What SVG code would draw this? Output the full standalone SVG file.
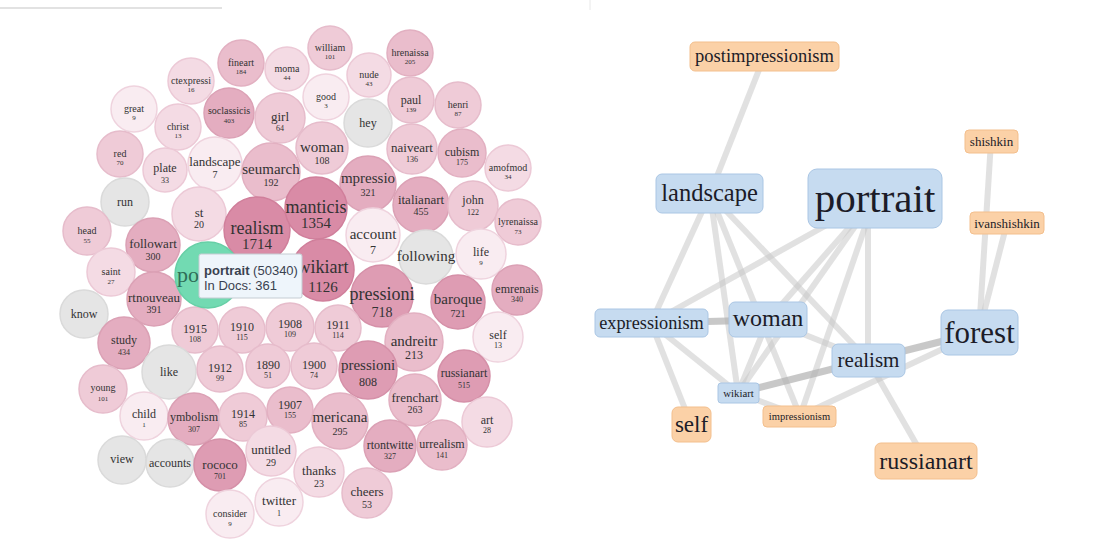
<svg xmlns="http://www.w3.org/2000/svg" width="1109" height="545" viewBox="0 0 1109 545">
<style>
.c1{fill:#d98ba6;stroke:#d07f9b}
.c2{fill:#de9cb3;stroke:#d590a8}
.c3{fill:#e4adc0;stroke:#dba1b5}
.c4{fill:#eabdcc;stroke:#e2b0c1}
.c5{fill:#efcbd7;stroke:#e6bccb}
.c6{fill:#f4dbe4;stroke:#ecc9d6}
.c7{fill:#f9ecf1;stroke:#efd3de}
.g{fill:#e5e5e5;stroke:#dadada}
circle{stroke-width:1.5}
text{font-family:"Liberation Serif","Times New Roman",serif;fill:#333;text-anchor:middle}
.s1{font-size:10px}.s1n{font-size:7px}
.s2{font-size:12px}.s2n{font-size:8px}
.s3{font-size:13px}.s3n{font-size:10px}
.s4{font-size:15px}.s4n{font-size:12px}
.s5{font-size:18px}.s5n{font-size:15px}
.e{stroke:#c8c8c8;stroke-opacity:0.55;stroke-width:6;fill:none;stroke-linecap:butt}
.ed{stroke:#b0b0b0;stroke-opacity:0.7;stroke-width:7}
.bn{fill:#c6dbf0;stroke:#aac6e4;stroke-width:1}
.on{fill:#fbd1a7;stroke:#f3bf8d;stroke-width:1}
.nt{fill:#1c1c28}
.tt{font-family:"Liberation Sans",Arial,sans-serif;font-size:13px;text-anchor:start;fill:#3a4250}
</style>
<rect width="1109" height="545" fill="#ffffff"/>
<line x1="0" y1="8" x2="222" y2="8" stroke="#e2e2e2" stroke-width="2"/>
<line x1="590" y1="0" x2="590" y2="10" stroke="#e8e8e8" stroke-width="1"/>

<g id="bubbles">
<g id="b-fineart"><circle class="c4" cx="241" cy="63" r="23"/><text class="s1" x="241" y="66">fineart</text><text class="s1n" x="241" y="74">184</text></g>
<g id="b-moma"><circle class="c6" cx="287" cy="69" r="22"/><text class="s1" x="287" y="72">moma</text><text class="s1n" x="287" y="80">44</text></g>
<g id="b-william"><circle class="c5" cx="330" cy="48" r="22"/><text class="s1" x="330" y="51">william</text><text class="s1n" x="330" y="59">101</text></g>
<g id="b-hrenaissa"><circle class="c4" cx="410" cy="53" r="23"/><text class="s1" x="410" y="56">hrenaissa</text><text class="s1n" x="410" y="64">205</text></g>
<g id="b-nude"><circle class="c6" cx="369" cy="75" r="22"/><text class="s1" x="369" y="78">nude</text><text class="s1n" x="369" y="86">43</text></g>
<g id="b-good"><circle class="c7" cx="326" cy="97" r="23"/><text class="s1" x="326" y="100">good</text><text class="s1n" x="326" y="108">3</text></g>
<g id="b-hey"><circle class="g" cx="368" cy="123" r="24"/><text class="s2" x="368" y="127">hey</text></g>
<g id="b-paul"><circle class="c5" cx="411" cy="100" r="23"/><text class="s2" x="411" y="104">paul</text><text class="s1n" x="411" y="112">139</text></g>
<g id="b-henri"><circle class="c5" cx="458" cy="105" r="23"/><text class="s1" x="458" y="108">henri</text><text class="s1n" x="458" y="116">87</text></g>
<g id="b-ctexpressi"><circle class="c6" cx="191" cy="81" r="23"/><text class="s1" x="191" y="84">ctexpressi</text><text class="s1n" x="191" y="92">16</text></g>
<g id="b-great"><circle class="c7" cx="134" cy="109" r="23"/><text class="s1" x="134" y="112">great</text><text class="s1n" x="134" y="120">9</text></g>
<g id="b-christ"><circle class="c6" cx="178" cy="127" r="23"/><text class="s1" x="178" y="130">christ</text><text class="s1n" x="178" y="138">13</text></g>
<g id="b-soclassicis"><circle class="c3" cx="229" cy="113" r="25"/><text class="s1" x="229" y="114">soclassicis</text><text class="s1n" x="229" y="123">403</text></g>
<g id="b-girl"><circle class="c5" cx="280" cy="118" r="25"/><text class="s3" x="280" y="121">girl</text><text class="s2n" x="280" y="131">64</text></g>
<g id="b-woman"><circle class="c5" cx="322" cy="148" r="26"/><text class="s4" x="322" y="152">woman</text><text class="s3n" x="322" y="164">108</text></g>
<g id="b-naiveart"><circle class="c5" cx="412" cy="149" r="25"/><text class="s3" x="412" y="152">naiveart</text><text class="s2n" x="412" y="162">136</text></g>
<g id="b-cubism"><circle class="c4" cx="462" cy="153" r="24"/><text class="s2" x="462" y="156">cubism</text><text class="s2n" x="462" y="165">175</text></g>
<g id="b-amofmod"><circle class="c6" cx="508" cy="168" r="23"/><text class="s1" x="508" y="171">amofmod</text><text class="s1n" x="508" y="179">34</text></g>
<g id="b-red"><circle class="c5" cx="120" cy="154" r="23"/><text class="s1" x="120" y="157">red</text><text class="s1n" x="120" y="165">70</text></g>
<g id="b-plate"><circle class="c6" cx="165" cy="170" r="22"/><text class="s2" x="165" y="172">plate</text><text class="s2n" x="165" y="183">33</text></g>
<g id="b-landscape"><circle class="c7" cx="215" cy="164" r="27"/><text class="s3" x="215" y="166">landscape</text><text class="s3n" x="215" y="178">7</text></g>
<g id="b-seumarch"><circle class="c4" cx="271" cy="172" r="29"/><text class="s4" x="271" y="174">seumarch</text><text class="s3n" x="271" y="186">192</text></g>
<g id="b-impressio"><circle class="c3" cx="368" cy="184" r="28"/><text class="s4" x="368" y="183">mpressio</text><text class="s3n" x="368" y="196">321</text></g>
<g id="b-italianart"><circle class="c3" cx="421" cy="205" r="28"/><text class="s3" x="421" y="204">italianart</text><text class="s3n" x="421" y="215">455</text></g>
<g id="b-john"><circle class="c5" cx="473" cy="206" r="25"/><text class="s2" x="473" y="204">john</text><text class="s2n" x="473" y="215">122</text></g>
<g id="b-lyrenaissa"><circle class="c5" cx="518" cy="222" r="23"/><text class="s1" x="518" y="225">lyrenaissa</text><text class="s1n" x="518" y="234">73</text></g>
<g id="b-run"><circle class="g" cx="125" cy="202" r="24"/><text class="s2" x="125" y="206">run</text></g>
<g id="b-st"><circle class="c6" cx="199" cy="214" r="27"/><text class="s3" x="199" y="217">st</text><text class="s3n" x="199" y="228">20</text></g>
<g id="b-realism"><circle class="c1" cx="257" cy="230" r="33"/><text class="s5" x="257" y="234">realism</text><text class="s5n" x="257" y="249">1714</text></g>
<g id="b-manticis"><circle class="c1" cx="316" cy="208" r="31"/><text class="s5" x="316" y="213">manticis</text><text class="s5n" x="316" y="228">1354</text></g>
<g id="b-account"><circle class="c7" cx="373" cy="235" r="27"/><text class="s4" x="373" y="239">account</text><text class="s4n" x="373" y="254">7</text></g>
<g id="b-following"><circle class="g" cx="426" cy="257" r="27"/><text class="s4" x="426" y="261">following</text></g>
<g id="b-life"><circle class="c7" cx="481" cy="254" r="25"/><text class="s2" x="481" y="256">life</text><text class="s1n" x="481" y="265">9</text></g>
<g id="b-head"><circle class="c5" cx="87" cy="231" r="24"/><text class="s1" x="87" y="234">head</text><text class="s1n" x="87" y="243">55</text></g>
<g id="b-followart"><circle class="c3" cx="153" cy="245" r="27"/><text class="s3" x="153" y="248">followart</text><text class="s3n" x="153" y="260">300</text></g>
<g id="b-saint"><circle class="c6" cx="111" cy="272" r="24"/><text class="s1" x="111" y="275">saint</text><text class="s1n" x="111" y="284">27</text></g>
<g id="b-wikiart"><circle class="c1" cx="323" cy="270" r="31"/><text class="s5" x="323" y="273">wikiart</text><text class="s5n" x="323" y="292">1126</text></g>
<g id="b-pressioni718"><circle class="c2" cx="382" cy="296" r="31"/><text class="s5" x="382" y="300">pressioni</text><text x="382" y="317" font-size="14">718</text></g>
<g id="b-baroque"><circle class="c2" cx="458" cy="302" r="27"/><text class="s4" x="458" y="304">baroque</text><text class="s3n" x="458" y="317">721</text></g>
<g id="b-emrenais"><circle class="c3" cx="517" cy="290" r="25"/><text class="s2" x="517" y="293">emrenais</text><text class="s2n" x="517" y="302">340</text></g>
<g id="b-rtnouveau"><circle class="c3" cx="154" cy="299" r="27"/><text class="s3" x="154" y="302">rtnouveau</text><text class="s3n" x="154" y="313">391</text></g>
<g id="b-know"><circle class="g" cx="84" cy="314" r="24"/><text class="s2" x="84" y="318">know</text></g>
<g id="b-1915"><circle class="c5" cx="195" cy="330" r="23"/><text class="s2" x="195" y="333">1915</text><text class="s2n" x="195" y="342">108</text></g>
<g id="b-1910"><circle class="c5" cx="242" cy="330" r="23"/><text class="s2" x="242" y="331">1910</text><text class="s2n" x="242" y="340">115</text></g>
<g id="b-1908"><circle class="c5" cx="290" cy="327" r="24"/><text class="s2" x="290" y="328">1908</text><text class="s2n" x="290" y="337">109</text></g>
<g id="b-1911"><circle class="c5" cx="338" cy="328" r="23"/><text class="s2" x="338" y="329">1911</text><text class="s2n" x="338" y="338">114</text></g>
<g id="b-andreitr"><circle class="c4" cx="414" cy="342" r="29"/><text class="s4" x="414" y="346">andreitr</text><text class="s4n" x="414" y="359">213</text></g>
<g id="b-self"><circle class="c7" cx="498" cy="337" r="25"/><text class="s2" x="498" y="339">self</text><text class="s2n" x="498" y="348">13</text></g>
<g id="b-study"><circle class="c3" cx="124" cy="343" r="26"/><text class="s2" x="124" y="344">study</text><text class="s2n" x="124" y="355">434</text></g>
<g id="b-like"><circle class="g" cx="169" cy="372" r="27"/><text class="s2" x="169" y="376">like</text></g>
<g id="b-1912"><circle class="c5" cx="220" cy="369" r="23"/><text class="s2" x="220" y="372">1912</text><text class="s2n" x="220" y="381">99</text></g>
<g id="b-1890"><circle class="c5" cx="268" cy="366" r="22"/><text class="s2" x="268" y="369">1890</text><text class="s2n" x="268" y="378">51</text></g>
<g id="b-1900"><circle class="c5" cx="314" cy="366" r="23"/><text class="s2" x="314" y="369">1900</text><text class="s2n" x="314" y="378">74</text></g>
<g id="b-pressioni808"><circle class="c2" cx="368" cy="370" r="29"/><text class="s4" x="368" y="370">pressioni</text><text class="s4n" x="368" y="386">808</text></g>
<g id="b-russianart"><circle class="c2" cx="464" cy="376" r="26"/><text class="s2" x="464" y="377">russianart</text><text class="s2n" x="464" y="388">515</text></g>
<g id="b-young"><circle class="c5" cx="103" cy="389" r="24"/><text class="s1" x="103" y="391">young</text><text class="s1n" x="103" y="401">101</text></g>
<g id="b-child"><circle class="c7" cx="144" cy="416" r="24"/><text class="s2" x="144" y="418">child</text><text class="s1n" x="144" y="427">1</text></g>
<g id="b-symbolism"><circle class="c3" cx="194" cy="419" r="26"/><text class="s2" x="194" y="421">ymbolism</text><text class="s2n" x="194" y="432">307</text></g>
<g id="b-1914"><circle class="c5" cx="243" cy="417" r="24"/><text class="s2" x="243" y="418">1914</text><text class="s2n" x="243" y="427">85</text></g>
<g id="b-1907"><circle class="c4" cx="290" cy="410" r="23"/><text class="s2" x="290" y="409">1907</text><text class="s2n" x="290" y="418">155</text></g>
<g id="b-mericana"><circle class="c4" cx="340" cy="421" r="28"/><text class="s4" x="340" y="422">mericana</text><text class="s3n" x="340" y="435">295</text></g>
<g id="b-frenchart"><circle class="c4" cx="415" cy="400" r="26"/><text class="s3" x="415" y="402">frenchart</text><text class="s3n" x="415" y="413">263</text></g>
<g id="b-art"><circle class="c6" cx="487" cy="422" r="25"/><text class="s2" x="487" y="424">art</text><text class="s2n" x="487" y="433">28</text></g>
<g id="b-view"><circle class="g" cx="122" cy="460" r="24"/><text class="s2" x="122" y="463">view</text></g>
<g id="b-accounts"><circle class="g" cx="170" cy="463" r="24"/><text class="s2" x="170" y="467">accounts</text></g>
<g id="b-rococo"><circle class="c2" cx="220" cy="465" r="26"/><text class="s3" x="220" y="469">rococo</text><text class="s2n" x="220" y="479">701</text></g>
<g id="b-untitled"><circle class="c6" cx="271" cy="451" r="25"/><text class="s3" x="271" y="454">untitled</text><text class="s3n" x="271" y="466">29</text></g>
<g id="b-thanks"><circle class="c6" cx="319" cy="472" r="25"/><text class="s3" x="319" y="475">thanks</text><text class="s3n" x="319" y="487">23</text></g>
<g id="b-rtontwitter"><circle class="c3" cx="390" cy="446" r="26"/><text class="s2" x="390" y="449">rtontwitte</text><text class="s2n" x="390" y="459">327</text></g>
<g id="b-surrealism"><circle class="c4" cx="442" cy="445" r="25"/><text class="s2" x="442" y="448">urrealism</text><text class="s2n" x="442" y="458">141</text></g>
<g id="b-cheers"><circle class="c5" cx="367" cy="493" r="25"/><text class="s3" x="367" y="496">cheers</text><text class="s3n" x="367" y="508">53</text></g>
<g id="b-twitter"><circle class="c7" cx="279" cy="502" r="24"/><text class="s3" x="279" y="505">twitter</text><text class="s2n" x="279" y="516">1</text></g>
<g id="b-consider"><circle class="c7" cx="230" cy="514" r="24"/><text class="s1" x="230" y="517">consider</text><text class="s1n" x="230" y="526">9</text></g>
<g id="b-portrait"><circle cx="208" cy="275" r="33" fill="#72dab2" stroke="#66cfa6"/><text x="177" y="282" font-size="22" style="fill:#2f6e58;text-anchor:start">po</text></g>
</g>

<g id="tooltip">
<rect x="199" y="254" width="103" height="44" rx="2" fill="#eef5fb" stroke="#c5ccd3" stroke-width="1"/>
<text class="tt" x="204" y="275"><tspan font-weight="bold">portrait</tspan> (50340)</text>
<text class="tt" x="204" y="290">In Docs: 361</text>
</g>

<g id="connectors">
<line class="e" x1="764" y1="57" x2="710" y2="194"/>
<line class="e" x1="710" y1="194" x2="651" y2="323"/>
<line class="e" x1="710" y1="194" x2="738" y2="393"/>
<line class="e" x1="710" y1="194" x2="800" y2="416"/>
<line class="e" x1="710" y1="194" x2="868" y2="360"/>
<line class="e" x1="875" y1="198" x2="651" y2="323"/>
<line class="e" x1="875" y1="198" x2="768" y2="320"/>
<line class="e" x1="875" y1="198" x2="738" y2="393"/>
<line class="e" x1="875" y1="198" x2="800" y2="416"/>
<line class="e" x1="868" y1="198" x2="868" y2="360"/>
<line class="e" x1="991" y1="141" x2="979" y2="332"/>
<line class="e" x1="1007" y1="223" x2="979" y2="332"/>
<line class="e ed" x1="979" y1="332" x2="868" y2="360"/>
<line class="e" x1="979" y1="332" x2="800" y2="416"/>
<line class="e ed" x1="738" y1="393" x2="868" y2="360"/>
<line class="e" x1="768" y1="320" x2="868" y2="360"/>
<line class="e ed" x1="651" y1="323" x2="768" y2="320"/>
<line class="e" x1="651" y1="323" x2="691" y2="424"/>
<line class="e" x1="651" y1="323" x2="738" y2="393"/>
<line class="e" x1="768" y1="320" x2="738" y2="393"/>
<line class="e" x1="868" y1="360" x2="926" y2="461"/>
<line class="e" x1="738" y1="393" x2="800" y2="416"/>
</g>

<g id="n-postimpressionism"><rect class="on" x="690" y="42" width="149" height="29" rx="5"/><text class="nt" x="764.5" y="62" font-size="18.5">postimpressionism</text></g>
<g id="n-landscape"><rect class="bn" x="656" y="174" width="107" height="39" rx="6"/><text class="nt" x="709.5" y="201" font-size="24.5">landscape</text></g>
<g id="n-portrait"><rect class="bn" x="808" y="169" width="134" height="59" rx="9"/><text class="nt" x="875" y="212" font-size="41">portrait</text></g>
<g id="n-shishkin"><rect class="on" x="965" y="130" width="53" height="23" rx="4"/><text class="nt" x="991.5" y="146" font-size="13">shishkin</text></g>
<g id="n-ivanshishkin"><rect class="on" x="970" y="212" width="74" height="22" rx="4"/><text class="nt" x="1007" y="227.5" font-size="13">ivanshishkin</text></g>
<g id="n-forest"><rect class="bn" x="941" y="310" width="77" height="45" rx="7"/><text class="nt" x="979.5" y="343" font-size="31">forest</text></g>
<g id="n-expressionism"><rect class="bn" x="595" y="309" width="113" height="28" rx="5"/><text class="nt" x="651.5" y="329" font-size="18.3">expressionism</text></g>
<g id="n-woman"><rect class="bn" x="729" y="302" width="78" height="35" rx="6"/><text class="nt" x="768" y="326" font-size="24">woman</text></g>
<g id="n-realism"><rect class="bn" x="832" y="344" width="73" height="33" rx="6"/><text class="nt" x="868.5" y="367" font-size="21">realism</text></g>
<g id="n-wikiart"><rect class="bn" x="718" y="383" width="41" height="20" rx="3"/><text class="nt" x="738.5" y="396.5" font-size="10.8">wikiart</text></g>
<g id="n-impressionism"><rect class="on" x="763" y="406" width="73" height="21" rx="4"/><text class="nt" x="799.5" y="420" font-size="10.5">impressionism</text></g>
<g id="n-self"><rect class="on" x="672" y="407" width="39" height="35" rx="6"/><text class="nt" x="691.5" y="432" font-size="23">self</text></g>
<g id="n-russianart"><rect class="on" x="875" y="443" width="102" height="36" rx="6"/><text class="nt" x="926" y="469" font-size="24">russianart</text></g>
</svg>
